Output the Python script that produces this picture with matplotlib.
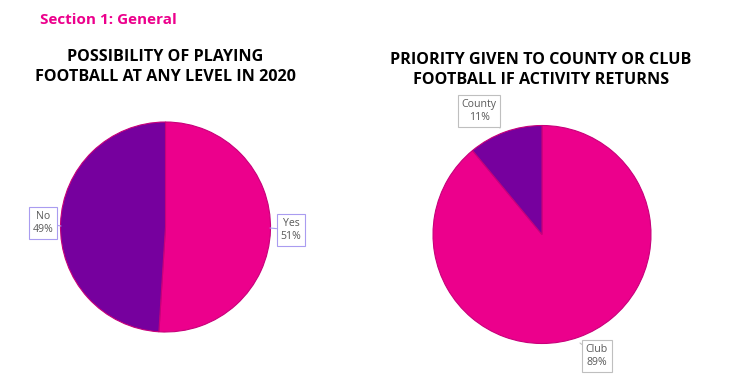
import matplotlib
matplotlib.use("Agg")
import matplotlib.pyplot as plt

# data
left_labels = ["Yes", "No"]
left_values = [51, 49]
right_labels = ["Club", "County"]
right_values = [89, 11]

PINK = "#EC008C"
PURPLE = "#76009E"
FONT = "Open Sans"

fig = plt.figure(figsize=(7.3, 3.83), dpi=100)
ax = fig.add_axes([0, 0, 1, 1])
H = 383


def py(y):
    # pixel row (from top) -> data y
    return H - y


ax.pie(left_values, colors=[PINK, PURPLE], startangle=90, counterclock=False,
       center=(165.5, py(227)), radius=105,
       wedgeprops=dict(edgecolor="#C8007A", linewidth=0.8))
ax.pie(right_values, colors=[PINK, PURPLE], startangle=90, counterclock=False,
       center=(542, py(234.5)), radius=109,
       wedgeprops=dict(edgecolor="#C8007A", linewidth=0.8))

ax.set_xlim(0, 730)
ax.set_ylim(0, 383)
ax.set_aspect("equal")
ax.axis("off")

fig.text(40 / 730, 1 - 20 / H, "Section 1: General", color=PINK, fontsize=11,
         fontweight="bold", family=FONT, va="center", ha="left")

ax.text(165, py(67), "POSSIBILITY OF PLAYING\nFOOTBALL AT ANY LEVEL IN 2020",
        ha="center", va="center", fontsize=11.6, fontweight="bold", family=FONT,
        linespacing=1.35)
ax.text(541, py(70), "PRIORITY GIVEN TO COUNTY OR CLUB\nFOOTBALL IF ACTIVITY RETURNS",
        ha="center", va="center", fontsize=11.6, fontweight="bold", family=FONT,
        linespacing=1.35)


def callout(text, xy_box, xy_pt, edge):
    ax.annotate(text, xy=(xy_pt[0], py(xy_pt[1])), xytext=(xy_box[0], py(xy_box[1])),
                ha="center", va="center", fontsize=7.6, color="#595959", family=FONT,
                linespacing=1.3,
                bbox=dict(boxstyle="square,pad=0.35", fc="white", ec=edge, lw=0.8),
                arrowprops=dict(arrowstyle="-", color=edge, lw=0.8,
                                shrinkA=0, shrinkB=0))


callout(f"{left_labels[1]}\n{left_values[1]}%", (43, 223), (61, 226), "#A99CF0")
callout(f"{left_labels[0]}\n{left_values[0]}%", (291, 230), (270, 228), "#A99CF0")
callout(f"{right_labels[1]}\n{right_values[1]}%", (479, 111), (500, 128), "#BFBFBF")
callout(f"{right_labels[0]}\n{right_values[0]}%", (597, 356), (580, 343), "#BFBFBF")

fig.savefig("out.png", dpi=100)
